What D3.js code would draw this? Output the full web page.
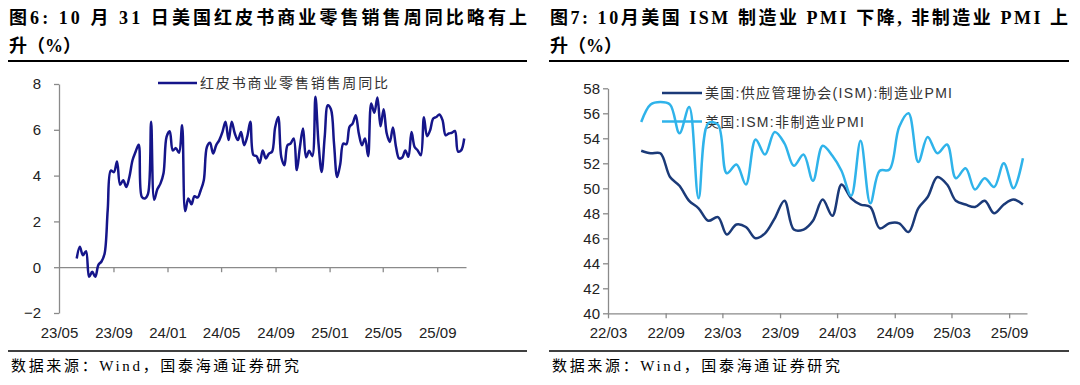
<!DOCTYPE html>
<html lang="zh">
<head>
<meta charset="utf-8">
<title>红皮书与ISM PMI</title>
<script src="https://d3js.org/d3.v7.min.js"></script>
<style>
  body { margin: 0; background: #fff; }
  svg { display: block; }
  .title { font-family: "Liberation Serif", "Noto Sans CJK SC", serif; font-weight: 700; font-size: 18px; fill: #000; }
  .foot { font-family: "Liberation Serif", "Noto Sans CJK SC", serif; font-size: 15px; fill: #000; }
  .axis text { font-family: "Liberation Sans", Arial, sans-serif; font-size: 15px; fill: #222; }
  .axis path, .axis line { stroke: #8a8a8a; stroke-width: 1.3; }
  .legend { font-family: "Liberation Sans", "Noto Sans CJK SC", sans-serif; font-size: 14px; fill: #333; }
</style>
</head>
<body>
<script>
// ---- data ----
// 红皮书商业零售销售周同比, weekly from 2023-06-10
const redbookStart = "2023-06-10";
const redbook = [
  0.38, 0.89, 0.52, 0.70, -0.42, -0.20, -0.42, 0.10, 0.25, 0.60,
  2.50, 4.22, 4.15, 4.62, 3.60, 3.80, 3.50, 3.95, 4.67, 5.04,
  5.35, 3.07, 3.00, 3.20, 6.35, 2.95, 3.40, 3.65, 4.10, 5.70,
  5.94, 5.10, 5.20, 5.00, 6.20, 2.45, 3.00, 2.75, 3.10, 3.04,
  3.36, 3.80, 5.25, 5.43, 4.96, 5.33, 5.55, 5.90, 6.35, 5.55,
  6.35, 5.84, 5.55, 5.90, 5.33, 5.70, 6.35, 4.90, 4.85, 4.55,
  5.10, 4.75, 4.96, 5.04, 6.10, 6.56, 4.80, 4.45, 5.33, 5.40,
  5.62, 4.24, 5.25, 6.06, 4.80, 5.08, 4.85, 7.44, 5.40, 4.16,
  5.70, 7.07, 6.90, 5.40, 3.94, 4.50, 5.40, 5.37, 6.13, 6.27,
  6.64, 5.84, 5.33, 5.62, 4.85, 7.15, 6.74, 7.41, 6.15, 6.90,
  5.84, 5.47, 6.10, 5.25, 4.75, 4.79, 5.10, 4.82, 5.90, 5.25,
  5.10, 4.89, 6.55, 5.72, 5.98, 6.49, 6.56, 6.67, 6.42, 5.76,
  5.84, 5.87, 5.95, 5.05, 5.10, 5.62
];
const leftTicks = ["2023-05","2023-09","2024-01","2024-05","2024-09","2025-01","2025-05","2025-09"];

// ISM PMI, monthly from 2022-06
const pmiStart = "2022-06";
const ismMfg = [
  53.0, 52.8, 52.8, 50.9, 50.2, 49.0, 48.4,
  47.4, 47.7, 46.3, 47.1, 46.9, 46.0, 46.4, 47.6, 49.0, 46.7, 46.7, 47.4,
  49.1, 47.8, 50.3, 49.2, 48.7, 48.5, 46.8, 47.2, 47.2, 46.5, 48.4, 49.3,
  50.9, 50.3, 49.0, 48.7, 48.5, 49.0, 48.0, 48.7, 49.1, 48.7
];
const ismSvc = [
  55.3, 56.7, 56.9, 56.7, 54.4, 56.5, 49.2,
  55.2, 55.1, 51.2, 51.9, 50.3, 53.9, 52.7, 54.5, 53.6, 51.8, 52.7, 50.6,
  53.4, 52.6, 51.4, 49.4, 53.8, 48.8, 51.4, 51.5, 54.9, 56.0, 52.1, 54.1,
  52.8, 53.5, 50.8, 51.6, 49.9, 50.8, 50.1, 52.0, 50.0, 52.4
];
const rightTicks = ["2022-03","2022-09","2023-03","2023-09","2024-03","2024-09","2025-03","2025-09"];

const parseDay = d3.timeParse("%Y-%m-%d");
const parseMonth = d3.timeParse("%Y-%m");
const fmt = d3.timeFormat("%y/%m");

const svg = d3.select("body").append("svg")
  .attr("width", 1080).attr("height", 385);

// ---- frames: titles, rules, footers ----
function frame(x0, x1, line1, line2, len1) {
  svg.append("text").attr("class", "title")
    .attr("x", x0 + 1).attr("y", 24)
    .attr("textLength", len1).attr("lengthAdjust", "spacing")
    .text(line1);
  svg.append("text").attr("class", "title")
    .attr("x", x0 + 1).attr("y", 52).text(line2);
  svg.append("line").attr("x1", x0).attr("x2", x1).attr("y1", 61).attr("y2", 61)
    .attr("stroke", "#000").attr("stroke-width", 2);
  svg.append("line").attr("x1", x0).attr("x2", x1).attr("y1", 351).attr("y2", 351)
    .attr("stroke", "#000").attr("stroke-width", 1.5);
  svg.append("text").attr("class", "foot")
    .attr("x", x0 + 3).attr("y", 371)
    .attr("textLength", 288).attr("lengthAdjust", "spacing")
    .text("数据来源：Wind，国泰海通证券研究");
}
frame(8, 527, "图6: 10 月 31 日美国红皮书商业零售销售周同比略有上", "升（%）", 518);
frame(549, 1069, "图7: 10月美国 ISM 制造业 PMI 下降, 非制造业 PMI 上", "升（%）", 518);

// ---- left chart ----
{
  const dates = redbook.map((v, i) => d3.timeDay.offset(parseDay(redbookStart), 7 * i));
  const x = d3.scaleTime()
    .domain([parseDay("2023-05-01"), parseDay("2025-11-05")])
    .range([59, 466]);
  const y = d3.scaleLinear().domain([-2, 8]).range([313, 84]);

  svg.append("g").attr("class", "axis")
    .attr("transform", "translate(59,0)")
    .call(d3.axisLeft(y).tickValues([-2, 0, 2, 4, 6, 8]).tickFormat(d3.format("d"))
      .tickSize(5).tickPadding(13).tickSizeOuter(0));

  const tickDates = leftTicks.map(parseMonth);
  svg.append("g").attr("class", "axis")
    .attr("transform", `translate(0,${y(0)})`)
    .call(d3.axisBottom(x).tickValues(tickDates.slice(1)).tickFormat("").tickSize(5).tickSizeOuter(0));
  const lab = svg.append("g").attr("class", "axis")
    .attr("transform", `translate(0,${y(-2)})`)
    .call(d3.axisBottom(x).tickValues(tickDates).tickFormat(fmt).tickSize(0).tickPadding(14));
  lab.select(".domain").remove();

  svg.append("line").attr("x1", 158).attr("x2", 197).attr("y1", 83).attr("y2", 83)
    .attr("stroke", "#15158a").attr("stroke-width", 2.5);
  svg.append("text").attr("class", "legend")
    .attr("x", 200).attr("y", 88)
    .attr("textLength", 188).attr("lengthAdjust", "spacing")
    .text("红皮书商业零售销售周同比");

  svg.append("path")
    .datum(redbook)
    .attr("fill", "none").attr("stroke", "#15158a").attr("stroke-width", 2.5)
    .attr("stroke-linejoin", "round")
    .attr("d", d3.line().x((d, i) => x(dates[i])).y(d => y(d)).curve(d3.curveCatmullRom.alpha(0.5)));
}

// ---- right chart ----
{
  const months = ismMfg.map((v, i) => d3.timeDay.offset(d3.timeMonth.offset(parseMonth(pmiStart), i), 14));
  const x = d3.scaleTime()
    .domain([parseMonth("2022-03"), parseDay("2025-10-28")])
    .range([608, 1027]);
  const y = d3.scaleLinear().domain([40, 58]).range([313.3, 88.3]);

  svg.append("g").attr("class", "axis")
    .attr("transform", "translate(608,0)")
    .call(d3.axisLeft(y).tickValues(d3.range(40, 59, 2)).tickSize(5).tickPadding(3).tickSizeOuter(0));
  svg.append("g").attr("class", "axis")
    .attr("transform", `translate(0,${y(40)})`)
    .call(d3.axisBottom(x).tickValues(rightTicks.map(parseMonth)).tickFormat(fmt)
      .tickSize(5).tickPadding(9).tickSizeOuter(0));

  const series = [
    { name: "美国:供应管理协会(ISM):制造业PMI", values: ismMfg, color: "#1b3a78", len: 247 },
    { name: "美国:ISM:非制造业PMI", values: ismSvc, color: "#2fb3ea", len: 159 }
  ];
  series.forEach((s, k) => {
    const ly = 93 + k * 28.5;
    svg.append("line").attr("x1", 662).attr("x2", 702).attr("y1", ly).attr("y2", ly)
      .attr("stroke", s.color).attr("stroke-width", 2.5);
    svg.append("text").attr("class", "legend")
      .attr("x", 705).attr("y", ly + 5)
      .attr("textLength", s.len).attr("lengthAdjust", "spacing")
      .text(s.name);
  });
  series.forEach(s => {
    svg.append("path")
      .datum(s.values)
      .attr("fill", "none").attr("stroke", s.color).attr("stroke-width", 2.5)
      .attr("d", d3.line().x((d, i) => x(months[i])).y(d => y(d)).curve(d3.curveCatmullRom.alpha(0.5)));
  });
}
</script>
</body>
</html>
